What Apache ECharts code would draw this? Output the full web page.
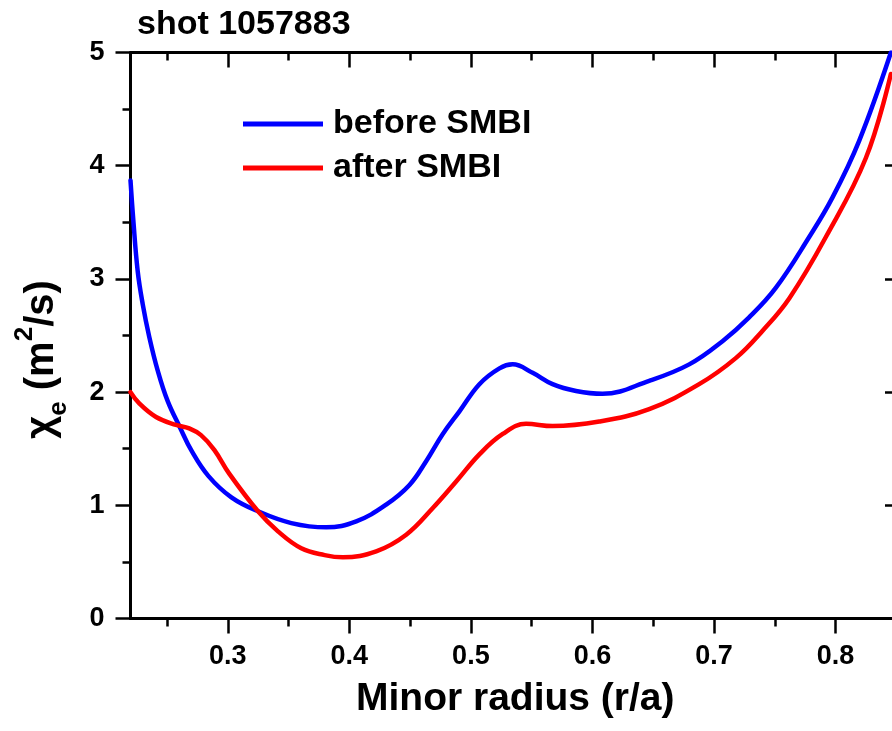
<!DOCTYPE html>
<html>
<head>
<meta charset="utf-8">
<script src="https://cdn.jsdelivr.net/npm/echarts@6/dist/echarts.min.js"></script>
<style>
html,body{margin:0;padding:0;background:#fff;overflow:hidden;width:892px;height:731px}
#c{width:900px;height:731px}
</style>
</head>
<body>
<div id="c"></div>
<script>
// ---- data ----
const radiusBefore = [0.220,0.2223,0.2259,0.2300,0.2354,0.2424,0.2506,0.2606,0.2703,0.284,0.303,0.3249,0.3523,0.381,0.4057,0.4303,0.4495,0.4632,0.4769,0.4906,0.507,0.5235,0.5344,0.5508,0.5672,0.5865,0.6083,0.6467,0.6796,0.707,0.7289,0.7508,0.7783,0.7975,0.8194,0.8455];
const chiBefore    = [3.87,3.52,3.07,2.78,2.49,2.19,1.92,1.69,1.48,1.26,1.07,0.947,0.843,0.805,0.858,1.006,1.18,1.39,1.63,1.83,2.07,2.21,2.245,2.17,2.07,2.01,1.985,2.10,2.245,2.45,2.66,2.92,3.37,3.72,4.22,5.0];
const radiusAfter  = [0.220,0.2272,0.241,0.2574,0.2683,0.278,0.2889,0.3012,0.3249,0.3413,0.3605,0.3797,0.3947,0.4221,0.4468,0.4687,0.4879,0.507,0.5262,0.5454,0.5672,0.6056,0.6467,0.6878,0.7179,0.7398,0.762,0.792,0.825,0.8455];
const chiAfter     = [2.0,1.90,1.78,1.71,1.68,1.62,1.49,1.28,0.947,0.77,0.62,0.56,0.54,0.593,0.74,0.976,1.21,1.45,1.63,1.72,1.70,1.74,1.85,2.07,2.30,2.54,2.83,3.37,4.07,4.81];
const seriesNames  = ['before SMBI','after SMBI'];
const seriesColors = ['#0000ff','#ff0000'];
const xMajorTicks  = [0.3,0.4,0.5,0.6,0.7,0.8];
const xMinorTicks  = [0.25,0.35,0.45,0.55,0.65,0.75,0.85];
const xMin = 0.22, xMax = 0.853;
const yMin = 0, yMax = 5, yStep = 1;

const FONT = "'Liberation Sans', Arial, sans-serif";
const zip = (xs, ys) => xs.map((x, i) => [x, ys[i]]);

const chart = echarts.init(document.getElementById('c'), null, {renderer:'canvas'});
const axisLineStyle = {color:'#000', width:3};
const tickStyle = {color:'#000', width:2.5};

function xAx(pos, values, len, inside, withLine, withLabel) {
  const a = {
    type:'value', min:xMin, max:xMax, position:pos,
    axisLine:{show:withLine, onZero:false, lineStyle:axisLineStyle},
    axisTick:{show:true, customValues:values, length:len, inside:inside, lineStyle:tickStyle},
    axisLabel:{show:false},
    splitLine:{show:false}
  };
  if (withLabel) {
    a.axisLabel = {show:true, customValues:values, formatter:v => v.toFixed(1),
      fontSize:27, fontWeight:'bold', color:'#000', fontFamily:FONT, margin:25};
    a.name = 'Minor radius (r/a)';
    a.nameLocation = 'middle';
    a.nameGap = 61;
    a.nameTextStyle = {fontSize:39, fontWeight:'bold', color:'#000', fontFamily:FONT};
  }
  return a;
}

const option = {
  animation:false,
  backgroundColor:'#fff',
  title:{text:'shot 1057883', left:137, top:8, padding:0,
    textStyle:{fontSize:34, fontWeight:'bold', color:'#000', fontFamily:FONT}},
  legend:{orient:'vertical', left:243, top:107, padding:0, itemWidth:80, itemHeight:5, itemGap:10,
    icon:'rect',
    data:seriesNames,
    textStyle:{fontSize:34, fontWeight:'bold', color:'#000', fontFamily:FONT, lineHeight:34, padding:[0,0,0,5]}},
  grid:{left:130.5, top:52.5, right:0, bottom:112.5, containLabel:false},
  xAxis:[
    xAx('bottom', xMajorTicks, 15, false, true, true),
    xAx('bottom', xMinorTicks, 8, false, false, false),
    xAx('top', xMajorTicks, 15, true, true, false),
    xAx('top', xMinorTicks, 8, true, false, false)
  ],
  yAxis:[
    {type:'value', min:yMin, max:yMax, interval:yStep, position:'left',
     axisLine:{show:true, onZero:false, lineStyle:axisLineStyle},
     axisTick:{show:true, length:15, inside:false, lineStyle:tickStyle},
     minorTick:{show:true, splitNumber:2, length:8, lineStyle:tickStyle},
     axisLabel:{fontSize:27, fontWeight:'bold', color:'#000', fontFamily:FONT, margin:26},
     splitLine:{show:false}, minorSplitLine:{show:false},
     name:'{a|χ}{sub|e}{a| (m}{sup|2}{a|/s)}',
     nameLocation:'middle', nameRotate:90, nameGap:59,
     nameTextStyle:{color:'#000', fontFamily:FONT, fontWeight:'bold', fontSize:40, padding:[0,48,0,0],
       rich:{
         a:{fontSize:40, fontWeight:'bold', fontFamily:FONT, color:'#000', lineHeight:60},
         sub:{fontSize:26, fontWeight:'bold', fontFamily:FONT, color:'#000', verticalAlign:'bottom', lineHeight:20},
         sup:{fontSize:26, fontWeight:'bold', fontFamily:FONT, color:'#000', verticalAlign:'top', lineHeight:36}
       }}},
    {type:'value', min:yMin, max:yMax, interval:yStep, position:'right',
     axisLine:{show:true, onZero:false, lineStyle:axisLineStyle},
     axisTick:{show:true, length:15, inside:true, lineStyle:tickStyle},
     minorTick:{show:true, splitNumber:2, length:8, lineStyle:tickStyle},
     axisLabel:{show:false}, splitLine:{show:false}, minorSplitLine:{show:false}}
  ],
  series:[
    {name:seriesNames[0], type:'line', xAxisIndex:0, yAxisIndex:0, data:zip(radiusBefore, chiBefore),
     symbol:'none', smooth:0.4, color:seriesColors[0], lineStyle:{width:4.5, color:seriesColors[0], cap:'round', join:'round'}, clip:true},
    {name:seriesNames[1], type:'line', xAxisIndex:0, yAxisIndex:0, data:zip(radiusAfter, chiAfter),
     symbol:'none', smooth:0.4, color:seriesColors[1], lineStyle:{width:4.5, color:seriesColors[1], cap:'round', join:'round'}, clip:true}
  ]
};
chart.setOption(option);
</script>
</body>
</html>
